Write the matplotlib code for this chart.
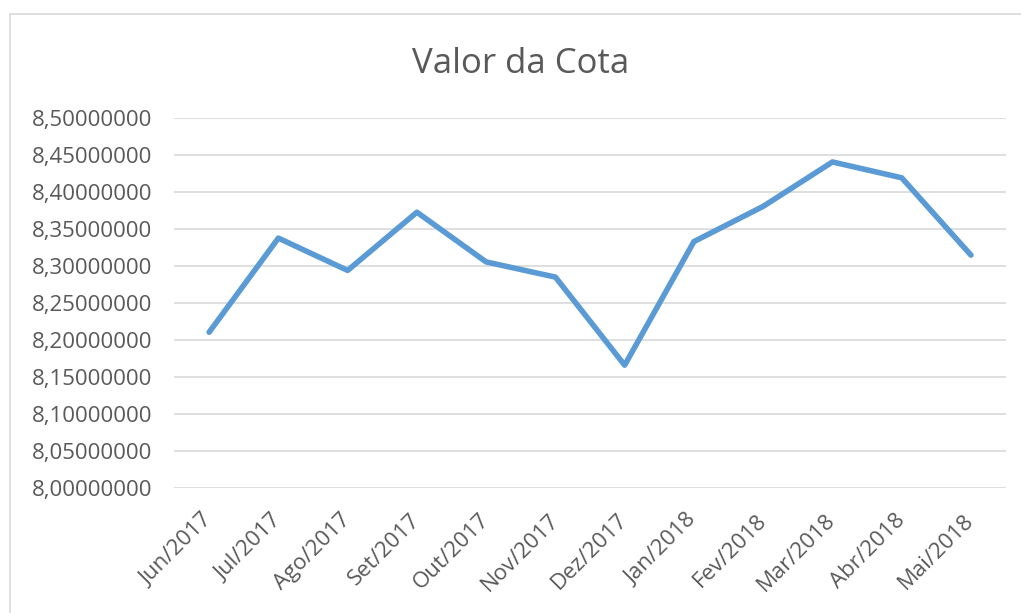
import matplotlib.pyplot as plt
from matplotlib.patches import Rectangle
from matplotlib.ticker import FuncFormatter
from matplotlib.transforms import ScaledTranslation

# Monthly quota values
months = ["Jun/2017", "Jul/2017", "Ago/2017", "Set/2017", "Out/2017", "Nov/2017",
          "Dez/2017", "Jan/2018", "Fev/2018", "Mar/2018", "Abr/2018", "Mai/2018"]
cota = [8.2105, 8.3377, 8.2940, 8.3727, 8.3055, 8.2850,
        8.1660, 8.3330, 8.3806, 8.4406, 8.4192, 8.3147]

plt.rcParams['font.family'] = ['Open Sans', 'DejaVu Sans']
grey = "#595959"

fig = plt.figure(figsize=(10.21, 6.13), dpi=100)
ax = fig.add_axes([0.1709, 0.2039, 0.8140, 0.6036])

# chart border like the spreadsheet chart frame
fig.patches.append(Rectangle((0.0098, -0.01), 1.2, 1.0 - 0.0228 + 0.01, transform=fig.transFigure,
                             fill=False, edgecolor="#D9D9D9", linewidth=1.2))

x = list(range(len(months)))
ax.plot(x, cota, color="#5B9BD5", linewidth=4, solid_capstyle="round", solid_joinstyle="round", zorder=3)

ax.set_xlim(-0.5, len(months) - 0.5)
ax.set_ylim(8.0, 8.5)
ax.set_yticks([8.0 + 0.05 * i for i in range(11)])
ax.yaxis.set_major_formatter(FuncFormatter(lambda v, p: f"{v:.8f}".replace(".", ",")))
ax.set_xticks(x)
ax.set_xticklabels(months, rotation=45, ha="right", va="center", rotation_mode="anchor")
shift = ScaledTranslation(8 / 100, 0, fig.dpi_scale_trans)
for lbl in ax.get_xticklabels():
    lbl.set_transform(lbl.get_transform() + shift)

ax.grid(axis="y", color="#D9D9D9", linewidth=1.2)
ax.set_axisbelow(True)
for s in ax.spines.values():
    s.set_visible(False)
ax.tick_params(axis="both", length=0, colors=grey, labelsize=16)
ax.tick_params(axis="y", pad=16)
ax.tick_params(axis="x", pad=21)

fig.text(0.51, 1 - 73 / 613, "Valor da Cota", ha="center", va="baseline", fontsize=25, color=grey)

fig.savefig("out.png", dpi=100)
